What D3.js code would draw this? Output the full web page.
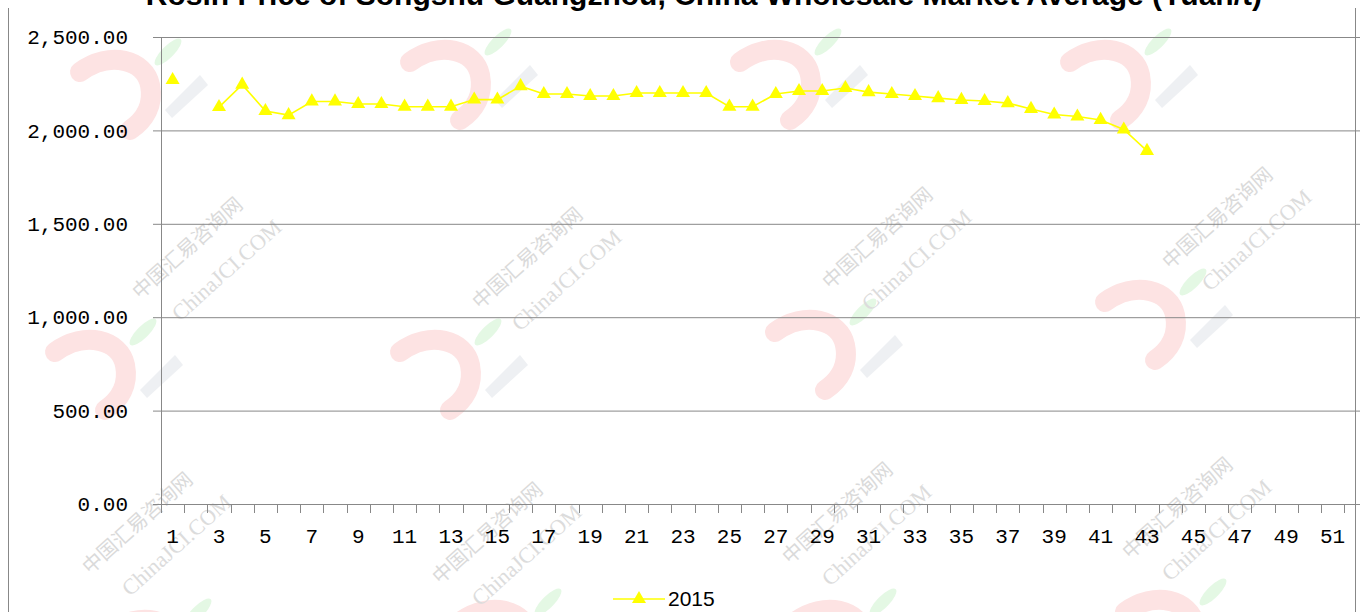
<!DOCTYPE html>
<html>
<head>
<meta charset="utf-8">
<script src="https://cdn.jsdelivr.net/npm/d3@7"></script>
<style>
  body { margin: 0; background: #fff; }
  svg { display: block; }
</style>
</head>
<body>
<svg id="chart"></svg>
<script>
// data
const weeks = [1,2,3,4,5,6,7,8,9,10,11,12,13,14,15,16,17,18,19,20,21,22,23,24,25,26,
               27,28,29,30,31,32,33,34,35,36,37,38,39,40,41,42,43,44,45,46,47,48,49,50,51,52];
const values2015 = [2270, null, 2125, 2245, 2104, 2082, 2155, 2155, 2141, 2141, 2127, 2127, 2127,
                    2165, 2165, 2237, 2195, 2195, 2184, 2184, 2200, 2200, 2200, 2200, 2127, 2127,
                    2195, 2211, 2211, 2227, 2205, 2195, 2184, 2173, 2163, 2157, 2146, 2115, 2085,
                    2074, 2056, 2005, 1890];
const yTicks = [0, 500, 1000, 1500, 2000, 2500];
const seriesName = "2015";
const title = "Rosin Price of Songshu Guangzhou, China Wholesale Market Average (Yuan/t)";

const width = 1360, height = 612;
const margin = { top: 37, left: 161, bottom: 108 };
const band = 23.2;

const svg = d3.select("#chart")
    .attr("width", width)
    .attr("height", height)
    .attr("viewBox", [0, 0, width, height]);

// watermark tiles (decoration only)
const marks = [[120, 90], [450, 80], [780, 80], [1110, 80],
               [95, 370], [440, 370], [815, 350], [1145, 320],
               [500, 640], [835, 640], [1165, 630], [150, 650]];
const wm = svg.append("g").attr("class", "watermark");
marks.forEach(([x, y]) => {
    const g = wm.append("g").attr("transform", `translate(${x},${y})`);
    g.append("path")
        .attr("d", "M-40,-18 C-10,-40 25,-30 30,-5 C34,15 25,30 10,40")
        .attr("fill", "none")
        .attr("stroke", "#fde3e3")
        .attr("stroke-width", 20)
        .attr("stroke-linecap", "round");
    g.append("ellipse")
        .attr("cx", 48).attr("cy", -38).attr("rx", 18).attr("ry", 6)
        .attr("transform", "rotate(-45,48,-38)")
        .attr("fill", "#e4f8e4");
    g.append("path")
        .attr("d", "M45,20 L80,-15 L88,-5 L52,28 Z")
        .attr("fill", "#eef0f3");
});
const wmText = [[140, 300], [480, 310], [830, 290], [1170, 270],
                [90, 575], [440, 585], [790, 565], [1130, 560]];
wmText.forEach(([x, y]) => {
    wm.append("text")
        .attr("transform", `translate(${x},${y}) rotate(-42)`)
        .attr("font-family", "Noto Sans CJK SC")
        .attr("font-size", 20)
        .attr("fill", "#dadada")
        .text("中国汇易咨询网");
    wm.append("text")
        .attr("transform", `translate(${x + 40},${y + 22}) rotate(-42)`)
        .attr("font-family", "Liberation Serif")
        .attr("font-size", 22)
        .attr("fill", "#dcdcdc")
        .text("ChinaJCI.COM");
});

// scales
const x = d3.scaleBand()
    .domain(weeks)
    .range([margin.left, margin.left + band * weeks.length])
    .paddingInner(0).paddingOuter(0);
const y = d3.scaleLinear()
    .domain([0, 2500])
    .range([height - margin.bottom, margin.top]);

// title (top is cut off in the original)
svg.append("text")
    .attr("x", 1262)
    .attr("y", 5)
    .attr("text-anchor", "end")
    .attr("font-family", "Liberation Sans, Arial, sans-serif")
    .attr("font-weight", "bold")
    .attr("font-size", 30)
    .text(title);

// chart border
svg.append("line").attr("x1", 8.5).attr("x2", 8.5).attr("y1", 8).attr("y2", height)
    .attr("stroke", "#888");
svg.append("line").attr("x1", 1355.5).attr("x2", 1355.5).attr("y1", 8).attr("y2", height)
    .attr("stroke", "#888");

// gridlines + y axis
const yAxis = svg.append("g")
    .attr("class", "y axis")
    .attr("transform", `translate(${margin.left},0)`)
    .call(d3.axisLeft(y).tickValues(yTicks).tickSize(8).tickPadding(25)
        .tickFormat(d3.format(",.2f")));
yAxis.select(".domain").attr("stroke", "#888").attr("d", `M0.5,${y(2500)}V${y(0)}`);
yAxis.selectAll(".tick line").attr("stroke", "#888").attr("x1", -8).attr("x2", width - margin.left);
yAxis.selectAll(".tick text")
    .attr("font-family", "Liberation Mono, monospace")
    .attr("font-size", 21)
    .attr("fill", "#000");

// x axis
const xAxis = svg.append("g")
    .attr("class", "x axis")
    .attr("transform", `translate(0,${y(0)})`)
    .call(d3.axisBottom(x).tickValues(weeks.filter(w => w % 2 === 1)).tickSize(0).tickPadding(24));
xAxis.select(".domain").remove();
xAxis.selectAll(".tick text")
    .attr("font-family", "Liberation Mono, monospace")
    .attr("font-size", 21)
    .attr("fill", "#000");
xAxis.selectAll(".boundary")
    .data(d3.range(weeks.length + 1))
    .join("line")
    .attr("class", "boundary")
    .attr("x1", i => Math.round(margin.left + i * x.bandwidth()) + 0.5)
    .attr("x2", i => Math.round(margin.left + i * x.bandwidth()) + 0.5)
    .attr("y1", 0).attr("y2", 9)
    .attr("stroke", "#888");

// series
const pts = values2015.map((v, i) => ({ week: weeks[i], value: v }));
const cx = d => x(d.week) + x.bandwidth() / 2;

svg.append("path")
    .datum(pts)
    .attr("fill", "none")
    .attr("stroke", "#ffff00")
    .attr("stroke-width", 1.6)
    .attr("d", d3.line().defined(d => d.value != null).x(cx).y(d => y(d.value)));

const tri = d3.symbol(d3.symbolTriangle, 85);
svg.append("g")
    .selectAll("path")
    .data(pts.filter(d => d.value != null))
    .join("path")
    .attr("transform", d => `translate(${cx(d)},${y(d.value)})`)
    .attr("d", tri)
    .attr("fill", "#ffff00");

// legend
const lg = svg.append("g").attr("transform", "translate(613,599)");
lg.append("line").attr("x1", 0).attr("x2", 52).attr("stroke", "#ffff00").attr("stroke-width", 1.6);
lg.append("path").attr("transform", "translate(26,0)").attr("d", tri).attr("fill", "#ffff00");
lg.append("text")
    .attr("x", 55).attr("y", 7)
    .attr("font-family", "Liberation Sans, Arial, sans-serif")
    .attr("font-size", 21)
    .text(seriesName);
</script>
</body>
</html>
